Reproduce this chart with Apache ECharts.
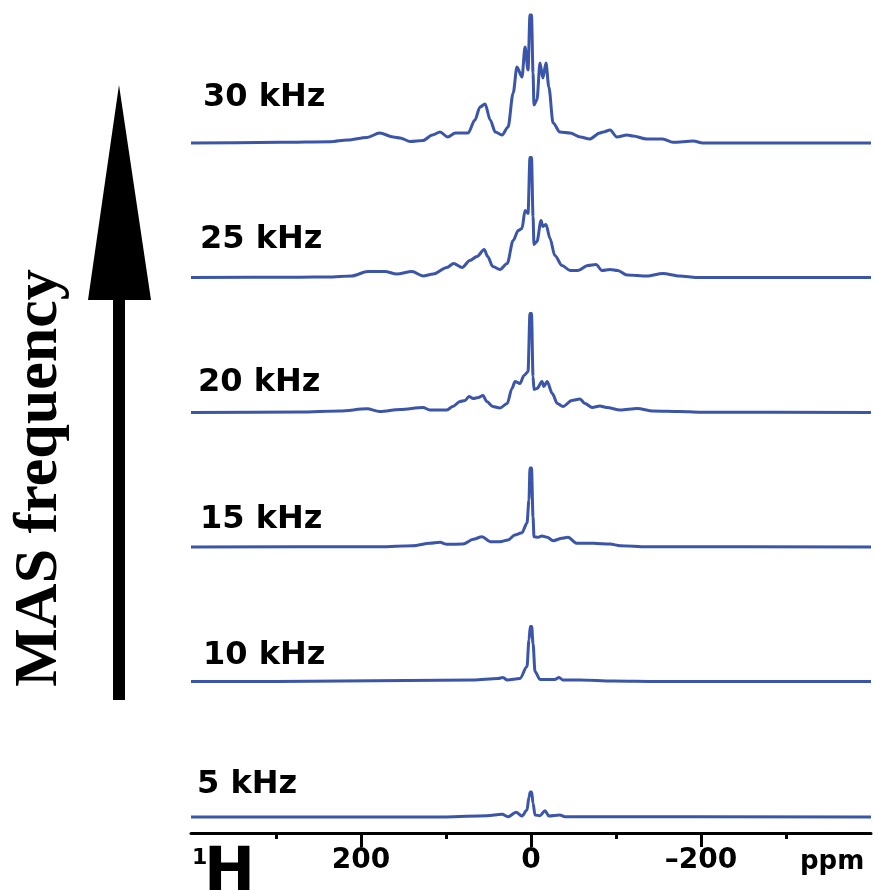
<!DOCTYPE html>
<html>
<head>
<meta charset="utf-8">
<script src="https://cdn.jsdelivr.net/npm/echarts@6/dist/echarts.min.js"></script>
<style>html,body{margin:0;padding:0;background:#fff}#c{width:874px;height:890px}</style>
</head>
<body>
<div id="c"></div>
<script>
// Chemical shift (ppm) vs intensity
const spec30 = [[400,0],[398,0],[295,0.7],[236,1.3],[216,3],[193,5.5],[178,10],[162,6],[154,5],[142,1.5],[127,2.5],[116,8],[107,11],[98,6],[89,10],[74,10],[66,23],[60,36],[54,39],[48,23],[42,11],[34,8],[27,16],[21,50],[16.5,76],[10.6,66],[7,96],[3.5,73],[1.2,128],[-0.6,128],[-2.4,70],[-3.5,38],[-7,43],[-10.6,80],[-14,65],[-17.6,80],[-21,56],[-26,20],[-34,11],[-46,10],[-58,6],[-69,4],[-81,10],[-85,11],[-93,13],[-101,6],[-113,8],[-120,7],[-136,4],[-155,4],[-167,0.7],[-191,2],[-202,0],[-234,0],[-300,0],[-400,0]];
const spec25 = [[400,0],[272,0.3],[239,0.5],[211,1.5],[192,6],[172,6],[158,3.5],[140,6],[127,1.5],[115,3.5],[99,10],[91,14],[81,10],[72,17],[63.5,21],[55,28],[51,21],[45,11],[36.5,8],[28,14],[21,37],[15,47],[10.6,49],[7,67],[3.5,64],[1.2,120],[-0.6,120],[-2.4,61],[-3.5,33],[-7,36],[-11.8,57],[-14,51],[-17.6,53],[-22.4,39],[-28,22],[-36.5,12],[-46,7],[-55,7],[-67,12],[-76.5,13],[-83.5,7],[-93,8],[-102,7],[-113,2.5],[-136.5,1.5],[-155,4],[-175,1.5],[-195,0],[-250,0],[-400,0]];
const spec20 = [[400,0],[272,0.5],[225,1.5],[193,3.7],[178,1],[154,3],[127,5],[119,2.5],[99,2.5],[92,6],[83.5,11],[77.6,12],[73,16],[68,14],[62,15],[56.5,17],[52,11],[45,6],[36.5,4.5],[28,9],[22.4,24],[18.8,31],[13,29],[8.2,37],[3.5,41],[1.2,99],[-0.6,99],[-2.4,36],[-3.5,23],[-7,24],[-13,31],[-15,26],[-19,31],[-25,19],[-31,9],[-37.6,6],[-48,12],[-57.6,13.5],[-63.5,9],[-72,5],[-81,6.5],[-89,5],[-105,2.5],[-125,4],[-143.5,1.5],[-175,1],[-198,0.3],[-400,0]];
const spec15 = [[400,0],[178,0.3],[139,1.3],[119,3.7],[107,4.7],[99,2.7],[80,3],[68,7.7],[57.6,10.3],[48,5.3],[36.5,5.3],[27,7],[19,12],[10.6,14.3],[4.7,24],[2.4,47],[1.2,79],[-0.6,79],[-2.4,30],[-3.5,10.3],[-8.2,9.7],[-13,11],[-19,9.7],[-26,6.3],[-36.5,8.7],[-43.5,9.7],[-54,3.7],[-73,3.7],[-93,3],[-105,1.3],[-136.5,0.3],[-400,0]];
const spec10 = [[400,0],[300,0],[68,1.5],[38.8,3],[33,4],[28,1.5],[13,3],[4.7,15],[2.4,41.5],[0.8,55],[-0.8,55],[-2.4,38],[-4.7,10],[-10.6,2],[-28,2],[-33,4],[-37.6,1.5],[-57.6,1.5],[-96.5,0.5],[-150,0],[-400,0]];
const spec5 = [[400,0],[100,0],[52,1.3],[34,2.7],[27,0.3],[17.6,4.7],[10.6,1],[4.7,7],[2.4,20],[0.8,25],[-0.8,25],[-2.4,13.7],[-4.7,2],[-10.6,1.3],[-16.5,6.3],[-21,1],[-34,2],[-40,0.3],[-400,0]];

const spectra = [spec30, spec25, spec20, spec15, spec10, spec5];
const spinLabels = ['30 kHz', '25 kHz', '20 kHz', '15 kHz', '10 kHz', '5 kHz'];
const majorTicks = [200, 0, -200];
const minorTicks = [300, 100, -100, -300];
const axisTitle = 'ppm';
const yTitle = 'MAS frequency';

const baselines = [143, 277.5, 412.5, 547, 681.5, 817];
const labelPos = [[203, 98], [200, 240], [198, 383], [200, 520], [203, 656], [197, 785]];
const BLUE = '#3b55a8';
const L = 191, R = 3;

const grids = [], xAxes = [], yAxes = [], series = [];
spectra.forEach((d, i) => {
  grids.push({left: L, right: R, top: baselines[i] - 130, height: 135});
  xAxes.push({type: 'value', gridIndex: i, min: -400, max: 400, inverse: true, show: false});
  yAxes.push({type: 'value', gridIndex: i, min: -5, max: 130, show: false});
  series.push({type: 'line', xAxisIndex: i, yAxisIndex: i, data: d, showSymbol: false,
    smooth: 0.3, smoothMonotone: 'x', clip: false,
    lineStyle: {color: BLUE, width: 3}, silent: true});
});
// axis grid
grids.push({left: L, right: R, top: 800, height: 33});
xAxes.push({type: 'value', gridIndex: 6, min: -400, max: 400, inverse: true,
  axisLine: {show: true, lineStyle: {color: '#000', width: 3}},
  axisTick: {show: true, customValues: majorTicks, length: 14, lineStyle: {color: '#000', width: 3}},
  axisLabel: {show: true, customValues: majorTicks, margin: 14, color: '#000', fontSize: 28, fontWeight: 'bold', fontFamily: 'DejaVu Sans',
    formatter: v => v < 0 ? '\u2013' + Math.abs(v) : String(v)},
  splitLine: {show: false}});
xAxes.push({type: 'value', gridIndex: 6, min: -400, max: 400, inverse: true, position: 'bottom',
  axisLine: {show: false},
  axisTick: {show: true, customValues: minorTicks, length: 6, lineStyle: {color: '#000', width: 3}},
  axisLabel: {show: false}, splitLine: {show: false}});
yAxes.push({type: 'value', gridIndex: 6, min: 0, max: 1, show: false});

const graphic = [
  {type: 'rect', shape: {x: 113, y: 295, width: 12, height: 405}, style: {fill: '#000'}},
  {type: 'polygon', shape: {points: [[88, 300], [151, 300], [119, 85]]}, style: {fill: '#000'}},
  {type: 'text', x: 40, y: 478, rotation: Math.PI / 2,
    style: {text: yTitle, fontFamily: 'Liberation Serif', fontWeight: 'bold', fontSize: 62, fill: '#000', align: 'center', verticalAlign: 'middle'}},
  {type: 'text', x: 800, y: 862, style: {text: axisTitle, fontFamily: 'DejaVu Sans', fontWeight: 'bold', fontSize: 26, fill: '#000', align: 'left', verticalAlign: 'middle'}},
  {type: 'text', x: 192, y: 858, style: {text: '1', fontFamily: 'DejaVu Sans', fontWeight: 'bold', fontSize: 22, fill: '#000', align: 'left', verticalAlign: 'middle'}},
  {type: 'text', x: 204, y: 874, style: {text: 'H', fontFamily: 'DejaVu Sans', fontWeight: 'bold', fontSize: 61, fill: '#000', align: 'left', verticalAlign: 'middle'}}
];
spinLabels.forEach((t, i) => {
  graphic.push({type: 'text', x: labelPos[i][0], y: labelPos[i][1],
    style: {text: t, fontFamily: 'DejaVu Sans', fontWeight: 'bold', fontSize: 32, fill: '#000', align: 'left', verticalAlign: 'middle'}});
});

const chart = echarts.init(document.getElementById('c'), null, {renderer: 'canvas'});
chart.setOption({animation: false, backgroundColor: '#fff', grid: grids, xAxis: xAxes, yAxis: yAxes, series: series, graphic: graphic});
</script>
</body>
</html>
